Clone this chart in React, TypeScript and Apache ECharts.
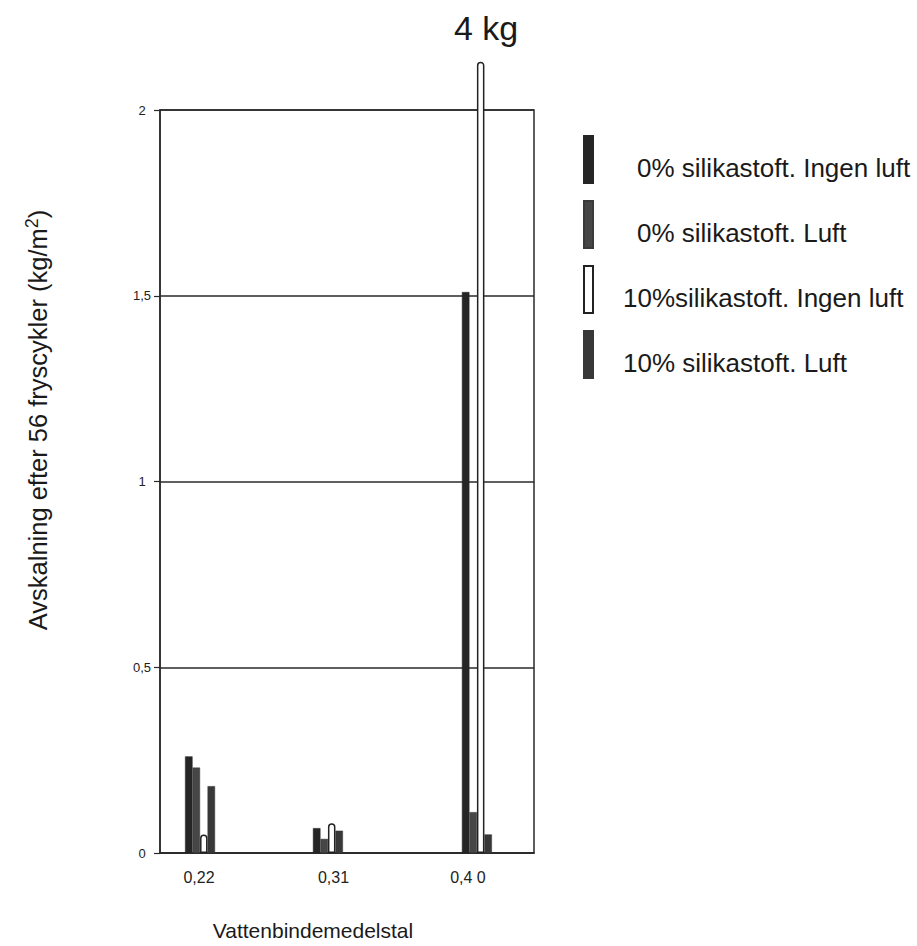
import React, { useEffect, useRef } from "react";
import * as echarts from "echarts";

// ---- data ----
const tickValues = [0.22, 0.31, 0.4];
const tickLabels = ["0,22", "0,31", "0,4 0"];
const groupCenters = [0.2207, 0.3063, 0.406];
const seriesNames = [
  "0% silikastoft. Ingen luft",
  "0% silikastoft. Luft",
  "10%silikastoft. Ingen luft",
  "10% silikastoft. Luft",
];
const s0IngenLuft = [0.26, 0.067, 1.51];
const s0Luft = [0.23, 0.038, 0.11];
const s10IngenLuft = [0.05, 0.08, 4];
const s10Luft = [0.18, 0.06, 0.05];
const yTicks = [0, 0.5, 1, 1.5, 2];
const yTickLabels = ["0", "0,5", "1", "1,5", "2"];
const brokenLabel = "4 kg";
const BREAK_TOP = 2.13; // values above the axis max are drawn as a broken bar

const allValues = [s0IngenLuft, s0Luft, s10IngenLuft, s10Luft];
const fills = ["#252525", "#464646", "#ffffff", "#383838"];
const borders = ["#252525", "#3a3a3a", "#222222", "#383838"];

export default function App() {
  const ref = useRef<HTMLDivElement>(null);
  useEffect(() => {
    if (!ref.current) return;
    const chart = echarts.init(ref.current, undefined, { renderer: "svg" });
    const font = "Liberation Sans, Arial, sans-serif";
    const series = allValues.map((vals, i) => ({
      name: seriesNames[i],
      type: "bar",
      barWidth: 7.5,
      barGap: "0%",
      clip: false,
      itemStyle: {
        color: fills[i],
        borderColor: borders[i],
        borderWidth: i === 2 ? 1.5 : 0.5,
        borderRadius: i === 2 ? [3, 3, 0, 0] : 0,
      },
      data: vals.map((v, j) => [groupCenters[j], v > 2 ? BREAK_TOP : v]),
    }));
    chart.setOption({
      animation: false,
      backgroundColor: "#ffffff",
      textStyle: { fontFamily: font },
      grid: {
        left: 160,
        right: 383,
        top: 110,
        bottom: 93,
        show: true,
        borderColor: "#2a2a2a",
        borderWidth: 1.5,
      },
      xAxis: {
        type: "value",
        min: 0.1939,
        max: 0.4442,
        splitLine: { show: false },
        axisLine: { show: true, lineStyle: { color: "#2a2a2a", width: 1.5 } },
        axisTick: { show: false },
        axisLabel: {
          customValues: tickValues,
          formatter: (v: number) => {
            const idx = tickValues.findIndex((t) => Math.abs(t - v) < 1e-6);
            return idx >= 0 ? tickLabels[idx] : "";
          },
          color: "#222",
          fontSize: 16,
          margin: 16,
          fontFamily: font,
        },
      },
      yAxis: {
        type: "value",
        min: 0,
        max: 2,
        interval: 0.5,
        axisLine: { show: true, lineStyle: { color: "#2a2a2a", width: 1.5 } },
        axisTick: { show: true, length: 6, lineStyle: { color: "#2a2a2a", width: 1.2 } },
        splitLine: { show: true, lineStyle: { color: "#2a2a2a", width: 1.5 } },
        axisLabel: {
          formatter: (v: number) => {
            const idx = yTicks.findIndex((t) => Math.abs(t - v) < 1e-6);
            return idx >= 0 ? yTickLabels[idx] : "";
          },
          align: "center",
          margin: 18,
          color: "#222",
          fontSize: 13,
          fontFamily: font,
        },
      },
      legend: {
        orient: "vertical",
        left: 583,
        top: 135,
        padding: 0,
        icon: "rect",
        itemWidth: 9,
        itemHeight: 47,
        itemGap: 16,
        selectedMode: false,
        formatter: (name: string) => {
          const i = seriesNames.indexOf(name);
          return `{${i < 2 ? "a" : "b"}|${name}}`;
        },
        textStyle: {
          fontSize: 26,
          color: "#1a1a1a",
          fontFamily: font,
          rich: {
            a: { fontSize: 26, fontFamily: font, color: "#1a1a1a", padding: [16, 0, 0, 39] },
            b: { fontSize: 26, fontFamily: font, color: "#1a1a1a", padding: [16, 0, 0, 25] },
          },
        },
      },
      graphic: [
        {
          type: "text",
          x: 486,
          y: 28,
          style: {
            text: brokenLabel,
            fontSize: 34,
            fontFamily: font,
            fill: "#1a1a1a",
            align: "center",
            verticalAlign: "middle",
          },
        },
        {
          type: "text",
          x: 38,
          y: 420,
          rotation: Math.PI / 2,
          style: {
            text: "Avskalning efter 56 fryscykler (kg/m{sup|2})",
            fontSize: 25.5,
            fontFamily: font,
            fill: "#1a1a1a",
            align: "center",
            verticalAlign: "middle",
            rich: {
              sup: { fontSize: 18, fontFamily: font, fill: "#1a1a1a", padding: [0, 0, 13, 0] },
            },
          },
        },
        {
          type: "text",
          x: 313,
          y: 930,
          style: {
            text: "Vattenbindemedelstal",
            fontSize: 21,
            fontFamily: font,
            fill: "#1a1a1a",
            align: "center",
            verticalAlign: "middle",
          },
        },
      ],
      series,
    });
    return () => chart.dispose();
  }, []);
  return (
    <div
      ref={ref}
      style={{ position: "fixed", left: 0, top: 0, width: 917, height: 946 }}
    />
  );
}
